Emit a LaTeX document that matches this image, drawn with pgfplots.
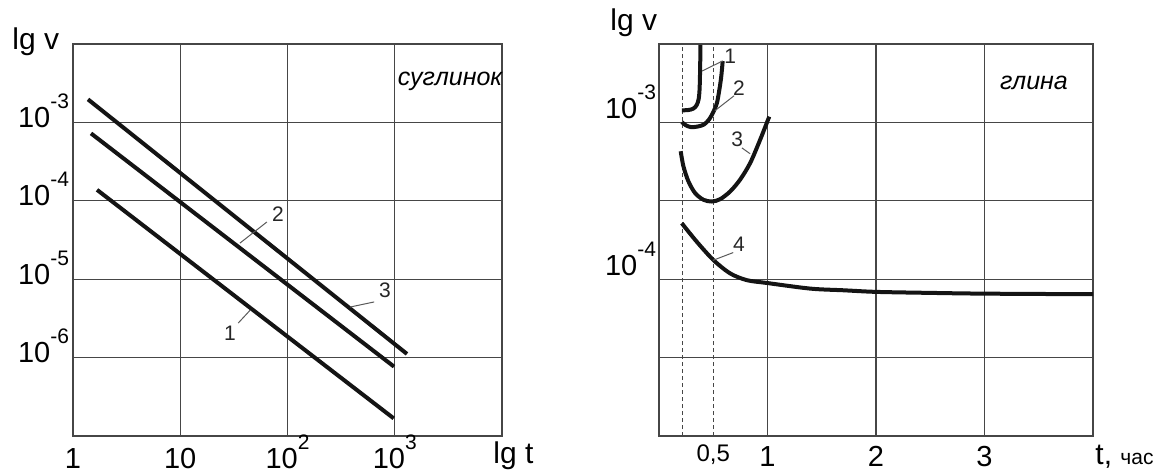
\documentclass[border=0pt]{standalone}
\usepackage{fontspec}
\setmainfont{Liberation Sans}
\usepackage{pgfplots}
\pgfplotsset{compat=1.18}

\definecolor{gridc}{RGB}{70,70,70}
\definecolor{curvec}{RGB}{20,20,20}
\definecolor{leadc}{RGB}{90,90,90}
\newcommand{\tl}{\fontsize{14.5}{16}\selectfont}
\newcommand{\nl}{\fontsize{10.5}{11}\selectfont}
\newcommand{\sups}[1]{\raisebox{9.5pt}{\fontsize{10.5}{11}\selectfont #1}}

\pgfplotsset{
  common/.style={
    scale only axis,
    anchor=south west,
    grid=major,
    major tick length=0pt,
    minor tick length=0pt,
    grid style={gridc, line width=0.6pt},
    axis line style={gridc, line width=0.6pt},
    tick label style={font=\tl, text=black},
  }
}

\begin{document}
\begin{tikzpicture}
\path[use as bounding box] (0,0) rectangle (581pt,238pt);

% ---------------- left: суглинок ----------------
\begin{axis}[common,
  at={(36.5pt,20pt)},
  width=214.5pt, height=196pt,
  xmode=log, ymode=log,
  xmin=1, xmax=1e4, ymin=1e-7, ymax=1e-2,
  xtick={1,10,100,1000,10000},
  xticklabels={1,10,10\sups{2},10\sups{3},},
  ytick={1e-7,1e-6,1e-5,1e-4,1e-3,1e-2},
  yticklabels={,10\sups{-6},10\sups{-5},10\sups{-4},10\sups{-3},},
  xticklabel style={anchor=base, yshift=-16pt},
  yticklabel style={anchor=base east, yshift=-2.5pt, xshift=1.5pt},
]
\addplot[curvec, line width=2pt] coordinates {(1.675,1.380e-4) (977,1.679e-7)};
\addplot[curvec, line width=2pt] coordinates {(1.472,7.244e-4) (984,7.674e-7)};
\addplot[curvec, line width=2pt] coordinates {(1.380,1.968e-3) (1300,1.114e-6)};

\draw[leadc, line width=0.5pt] (rel axis cs:0.389,0.492) -- (rel axis cs:0.452,0.546);
\node[font=\nl, text=black!85] at (rel axis cs:0.478,0.566) {2};
\draw[leadc, line width=0.5pt] (rel axis cs:0.646,0.329) -- (rel axis cs:0.702,0.342);
\node[font=\nl, text=black!85] at (rel axis cs:0.727,0.372) {3};
\draw[leadc, line width=0.5pt] (rel axis cs:0.413,0.321) -- (rel axis cs:0.385,0.288);
\node[font=\nl, text=black!85] at (rel axis cs:0.366,0.263) {1};

\node[font=\fontsize{12.5}{14}\selectfont\itshape] at (rel axis cs:0.879,0.905) {суглинок};
\end{axis}

% ---------------- right: глина ----------------
\begin{axis}[common,
  at={(329.5pt,20pt)},
  width=217pt, height=196pt,
  ymode=log,
  xmin=0, xmax=4, ymin=1e-5, ymax=3.16228e-3,
  xtick={0,1,2,3,4},
  xticklabels={,1,2,3,},
  extra x ticks={0.5},
  extra x tick labels={0{,}5},
  xticklabel style={anchor=base, yshift=-15pt},
  extra x tick style={grid=none, xticklabel style={font=\fontsize{12}{13}\selectfont, yshift=2.5pt}},
  ytick={1e-5,3.16228e-5,1e-4,3.16228e-4,1e-3,3.16228e-3},
  yticklabels={,,10\sups{-4},,10\sups{-3},},
  yticklabel style={anchor=base east, yshift=2pt, xshift=2pt},
]
\addplot[gridc, line width=0.4pt, dash pattern=on 2pt off 1.5pt] coordinates {(0.215,1e-5) (0.215,3.16228e-3)};
\addplot[gridc, line width=0.4pt, dash pattern=on 2pt off 1.5pt] coordinates {(0.5,1e-5) (0.5,3.16228e-3)};

% curve 1
\addplot[curvec, line width=2pt, smooth] coordinates {
 (0.210,1.194e-3) (0.268,1.199e-3) (0.314,1.222e-3) (0.346,1.285e-3)
 (0.365,1.403e-3) (0.374,1.629e-3) (0.379,2.188e-3) (0.382,3.12e-3)};
% curve 2
\addplot[curvec, line width=2pt, smooth] coordinates {
 (0.210,1.005e-3) (0.249,9.57e-4) (0.296,9.33e-4) (0.360,9.42e-4)
 (0.416,9.71e-4) (0.462,1.045e-3) (0.499,1.159e-3) (0.533,1.324e-3)
 (0.554,1.581e-3) (0.573,1.941e-3) (0.587,2.460e-3)};
% curve 3
\addplot[curvec, line width=2pt, smooth] coordinates {
 (0.200,6.55e-4) (0.225,5.25e-4) (0.271,4.21e-4) (0.333,3.54e-4)
 (0.410,3.21e-4) (0.487,3.13e-4) (0.564,3.24e-4) (0.656,3.63e-4)
 (0.748,4.32e-4) (0.841,5.52e-4) (0.933,7.78e-4) (1.016,1.089e-3)};
% curve 4
\addplot[curvec, line width=2pt, smooth] coordinates {
 (0.210,2.275e-4) (0.348,1.734e-4) (0.502,1.324e-4) (0.656,1.089e-4)
 (0.810,9.86e-5) (0.995,9.46e-5) (1.395,8.71e-5) (1.700,8.50e-5)
 (2.005,8.30e-5) (2.500,8.18e-5) (3.002,8.09e-5) (4.0,8.02e-5)};

\draw[leadc, line width=0.5pt] (rel axis cs:0.099,0.931) -- (rel axis cs:0.147,0.957);
\node[font=\nl, text=black!85] at (rel axis cs:0.164,0.969) {1};
\draw[leadc, line width=0.5pt] (rel axis cs:0.129,0.830) -- (rel axis cs:0.173,0.868);
\node[font=\nl, text=black!85] at (rel axis cs:0.184,0.887) {2};
\draw[leadc, line width=0.5pt] (rel axis cs:0.191,0.735) -- (rel axis cs:0.210,0.720);
\node[font=\nl, text=black!85] at (rel axis cs:0.180,0.758) {3};
\draw[leadc, line width=0.5pt] (rel axis cs:0.124,0.448) -- (rel axis cs:0.171,0.468);
\node[font=\nl, text=black!85] at (rel axis cs:0.184,0.488) {4};

\node[font=\fontsize{12.5}{14}\selectfont\itshape] at (rel axis cs:0.864,0.900) {глина};
\end{axis}

% axis labels
\node[anchor=base west, font=\fontsize{15}{16}\selectfont, inner sep=0pt] at (6pt,213pt) {lg v};
\node[anchor=base west, font=\fontsize{15}{16}\selectfont, inner sep=0pt] at (305pt,222.5pt) {lg v};
\node[anchor=base west, font=\fontsize{15}{16}\selectfont, inner sep=0pt] at (246.5pt,6pt) {lg t};
\node[anchor=base west, inner sep=0pt] at (547.5pt,5.5pt) {\fontsize{15}{16}\selectfont t, \fontsize{10.5}{12}\selectfont час};
\end{tikzpicture}
\end{document}
